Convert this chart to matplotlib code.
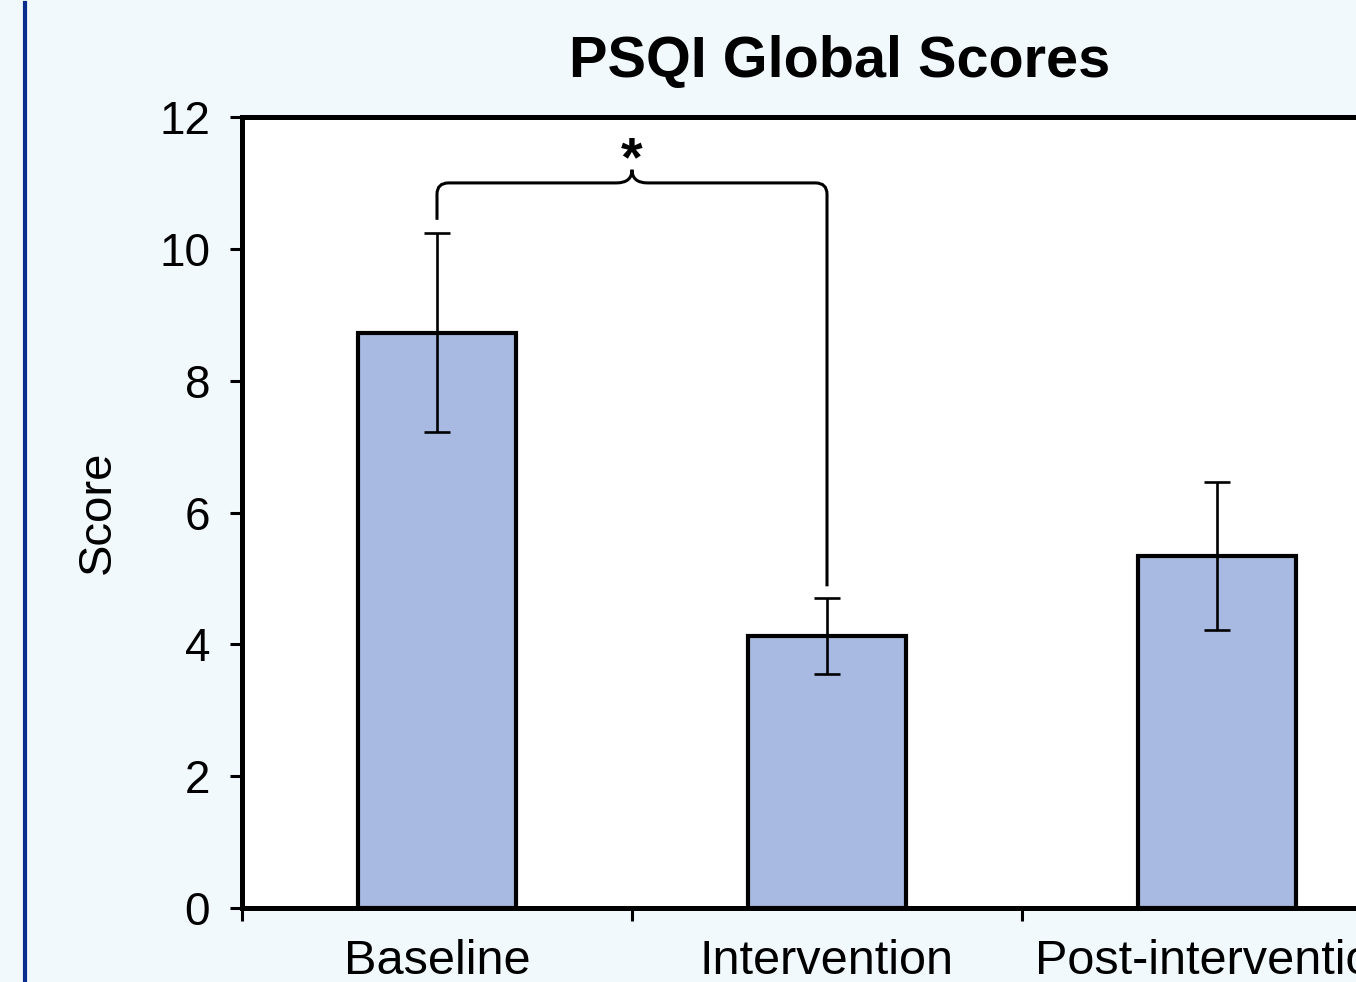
import matplotlib
matplotlib.use("Agg")
import matplotlib.pyplot as plt
from matplotlib.path import Path
from matplotlib.patches import PathPatch
from matplotlib.lines import Line2D
import numpy as np

# data
categories = ["Baseline", "Intervention", "Post-intervention"]
scores = [8.73, 4.13, 5.34]
errors = [1.51, 0.58, 1.12]
y_ticks = [0, 2, 4, 6, 8, 10, 12]

plt.rcParams['font.family'] = ['Liberation Sans', 'DejaVu Sans']

bg = "#F1F9FD"
bar_color = "#A9BAE2"

fig = plt.figure(figsize=(13.56, 9.82), dpi=100, facecolor=bg)
# the reference is cropped on the right, so the axes run past the figure edge
ax = fig.add_axes([242/1356, 74/982, 1170/1356, 791/982])
ax.set_facecolor("white")

x = np.arange(len(categories))
ax.bar(x, scores, width=0.403, color=bar_color, edgecolor="black", linewidth=3, zorder=2)
ax.errorbar(x, scores, yerr=errors, fmt="none", ecolor="black", elinewidth=1.9,
            capsize=9.5, capthick=1.9, zorder=3)

ax.set_xlim(-0.5, len(categories) - 0.5)
ax.set_ylim(0, 12)
ax.set_yticks(y_ticks)
ax.tick_params(axis="y", labelsize=33, length=9, width=2.2, pad=14, direction="out")

# ticks on the category boundaries, labels at the centres
ax.set_xticks(np.arange(len(categories) + 1) - 0.5)
ax.set_xticklabels([])
ax.set_xticks(x, minor=True)
ax.set_xticklabels(categories, minor=True, fontsize=35)
ax.tick_params(axis="x", which="major", length=9, width=2.2, direction="out")
ax.tick_params(axis="x", which="minor", length=0, pad=22)

for s in ax.spines.values():
    s.set_linewidth(3.6)

ax.set_ylabel("Score", fontsize=34, labelpad=28)
fig.text(840/1356, 1 - 62/982, "PSQI Global Scores", fontsize=41.5, fontweight="bold",
         ha="center", va="center")

# significance bracket between Baseline and Intervention
x0, x1 = x[0], x[1]
yl = scores[0] + errors[0] + 0.2
yr = scores[1] + errors[1] + 0.17
yt = 11.0
ytip = 11.2
xm = (x0 + x1) / 2
rx, ry = 0.03, 0.17
bw = 0.04
verts = [(x0, yl), (x0, yt - ry), (x0, yt), (x0 + rx, yt),
         (xm - bw, yt), (xm, yt), (xm, ytip),
         (xm, yt), (xm + bw, yt),
         (x1 - rx, yt), (x1, yt), (x1, yt - ry), (x1, yr)]
codes = [Path.MOVETO, Path.LINETO, Path.CURVE3, Path.CURVE3,
         Path.LINETO, Path.CURVE3, Path.CURVE3,
         Path.CURVE3, Path.CURVE3,
         Path.LINETO, Path.CURVE3, Path.CURVE3, Path.LINETO]
ax.add_patch(PathPatch(Path(verts, codes), fill=False, lw=2.2, edgecolor="black",
                       zorder=4, clip_on=False))
ax.text(xm, yt - 0.07, "*", fontsize=40, ha="center", va="bottom", fontweight="bold")

# dark blue rule at the left edge
fig.add_artist(Line2D([25/1356, 25/1356], [0, 1 - 3/982], color="#0B2C8C", lw=3))

fig.savefig("out.png", dpi=100, facecolor=bg)
